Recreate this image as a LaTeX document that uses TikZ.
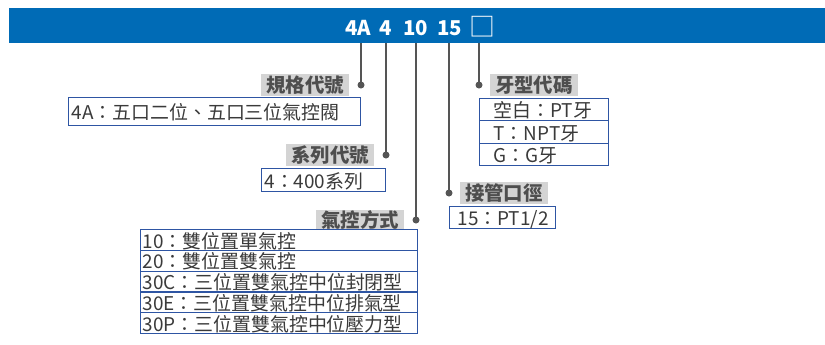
\documentclass[tikz,border=0pt]{standalone}
\usepackage{fontspec}
\setmainfont{Noto Sans CJK TC}
\usetikzlibrary{positioning}
\definecolor{barblue}{HTML}{006BB6}
\definecolor{cellblue}{HTML}{2E55A3}
\definecolor{taggray}{HTML}{D4D4D4}
\definecolor{leadgray}{HTML}{555555}
\definecolor{inkgray}{HTML}{3A3A3A}

\begin{document}
\begin{tikzpicture}[x=1bp, y=-1bp,
    code/.style={text=white, inner sep=0pt, anchor=base, font=\bfseries\fontsize{20.5}{20.5}\selectfont},
    tag/.style={fill=taggray, text=inkgray!90, minimum width=88bp, minimum height=22bp, inner sep=0pt, font=\bfseries\fontsize{19.5}{19.5}\selectfont},
    cell/.style={draw=cellblue, line width=1.1bp, text=inkgray, anchor=north west, inner xsep=3bp, inner ysep=0pt, align=left, font=\fontsize{19}{19}\selectfont, text height=18.5bp, text depth=2.3bp},
    dot/.style={circle, fill=leadgray, minimum size=7bp, inner sep=0pt},
    lead/.style={draw=leadgray, line width=1.2bp}]

    \useasboundingbox (0,0) rectangle (825,344);

    % Blue title bar with the model code
    \node[fill=barblue, minimum width=816bp, minimum height=35bp, inner sep=0pt, anchor=north west] (bar) at (9,8) {};
    \node[code] (c1) at (358.5,35) {4A};
    \node[code] (c2) at (386,35) {4};
    \node[code] (c3) at (415.5,35) {10};
    \node[code] (c4) at (449.5,35) {15};
    \node[code, font=\fontsize{26}{26}\selectfont] (c5) at (482,36.5) {□};

    % Lead dots
    \node[dot] (d1) at (361,85) {};
    \node[dot] (d2) at (386,155) {};
    \node[dot] (d3) at (416,220) {};
    \node[dot] (d4) at (449,193) {};
    \node[dot] (d5) at (479,85) {};

    % Leads from the code down to the dots
    \foreach \i in {1,...,5} {
        \draw[lead] (d\i |- bar.south) -- (d\i.center);
    }

    % Group 1
    \node[tag, left=8bp of d1] (t1) {規格代號};
    \node[cell, text width=286bp, minimum height=28bp] (b1) at (68,97) {4A：五口二位、五口三位氣控閥};

    % Group 2
    \node[tag, left=8bp of d2] (t2) {系列代號};
    \node[cell, text width=118bp, minimum height=23bp] (b2) at (261,168) {4：400系列};

    % Group 3
    \node[tag, left=8bp of d3, minimum height=20bp] (t3) {氣控方式};
    \foreach \txt [count=\i] in {10：雙位置單氣控, 20：雙位置雙氣控, 30C：三位置雙氣控中位封閉型, 30E：三位置雙氣控中位排氣型, 30P：三位置雙氣控中位壓力型} {
        \node[cell, inner xsep=2bp, text width=273bp, minimum height=20.8bp] (r\i) at (140,{229+20.8*(\i-1)}) {\txt};
    }

    % Group 4
    \node[tag, right=7bp of d4] (t4) {接管口徑};
    \node[cell, inner xsep=8bp, text width=90bp, minimum height=22bp] (b4) at (449,206) {15：PT1/2};

    % Group 5
    \node[tag, right=7bp of d5] (t5) {牙型代碼};
    \foreach \txt [count=\i] in {空白：PT牙, T：NPT牙, G：G牙} {
        \node[cell, inner xsep=14bp, text width=101bp, minimum height=22.3bp] (s\i) at (479,{98+22.3*(\i-1)}) {\txt};
    }

\end{tikzpicture}
\end{document}
